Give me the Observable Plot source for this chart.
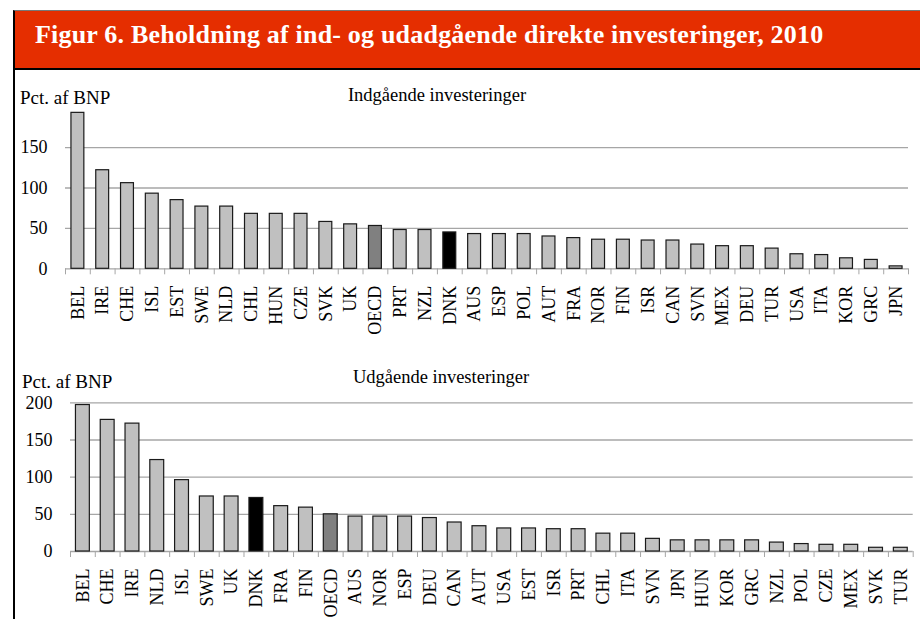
<!DOCTYPE html>
<html>
<head>
<meta charset="utf-8">
<script src="https://cdn.jsdelivr.net/npm/d3@7"></script>
<script src="https://cdn.jsdelivr.net/npm/@observablehq/plot@0.6"></script>
<style>
  html, body { margin: 0; padding: 0; }
  body { width: 920px; height: 619px; overflow: hidden; background: #fff; position: relative; font-family: "Liberation Serif", serif; color: #000; }
  #header { position: absolute; left: 13px; top: 10px; width: 920px; height: 57px; background: #E52E00; border-left: 2px solid #000; border-top: 1px solid #777; border-bottom: 2px solid #000; }
  #title { position: absolute; left: 35px; top: 21.5px; font-size: 26px; letter-spacing: 0.2px; font-weight: bold; color: #fff; line-height: 1; white-space: nowrap; }
  #border { position: absolute; left: 13px; top: 70px; width: 2px; height: 549px; background: #000; z-index: 5; }
  .chart { position: absolute; left: 0; }
  .chart svg, .chart svg text { font-family: "Liberation Serif", serif !important; }
  .lab { position: absolute; line-height: 1; white-space: nowrap; }
  .sub { transform: translateX(-50%); }
</style>
</head>
<body>
<div id="header"></div>
<div id="title">Figur 6. Beholdning af ind- og udadgående direkte investeringer, 2010</div>
<div id="border"></div>
<div id="top" class="chart" style="top:80px"></div>
<div id="bottom" class="chart" style="top:360px"></div>
<div class="lab" style="left:20px; top:88px; font-size:19px">Pct. af BNP</div>
<div class="lab sub" style="left:437px; top:86px; font-size:18.5px">Indgående investeringer</div>
<div class="lab" style="left:22px; top:372px; font-size:19px">Pct. af BNP</div>
<div class="lab sub" style="left:441px; top:368px; font-size:18.5px">Udgående investeringer</div>
<script>
// Indgående investeringer (pct. af BNP), 2010
const inCountries = ["BEL","IRE","CHE","ISL","EST","SWE","NLD","CHL","HUN","CZE","SVK","UK","OECD","PRT","NZL","DNK","AUS","ESP","POL","AUT","FRA","NOR","FIN","ISR","CAN","SVN","MEX","DEU","TUR","USA","ITA","KOR","GRC","JPN"];
const inValues = [193,122,106,93,85,77,77,68,68,68,58,55,53,48,48,45,43,43,43,40,38,36,36,35,35,30,28,28,25,18,17,13,11,3];

// Udgående investeringer (pct. af BNP), 2010
const outCountries = ["BEL","CHE","IRE","NLD","ISL","SWE","UK","DNK","FRA","FIN","OECD","AUS","NOR","ESP","DEU","CAN","AUT","USA","EST","ISR","PRT","CHL","ITA","SVN","JPN","HUN","KOR","GRC","NZL","POL","CZE","MEX","SVK","TUR"];
const outValues = [197,177,172,123,96,74,74,72,61,59,50,47,47,47,45,39,34,31,31,30,30,24,24,17,15,15,15,15,12,10,9,9,5,5];

const inTicks = [0,50,100,150];
const outTicks = [0,50,100,150,200];

function chart(countries, values, ticks, m) {
  const data = countries.map((c, i) => ({c, v: values[i], g: c === "DNK" ? "DNK" : c === "OECD" ? "OECD" : "other"}));
  const W = 920;
  const step = (W - m.l - m.r) / countries.length;
  const plotH = m.h - m.t - m.b;
  const tickUnits = 6 * 200 / plotH;
  const grid = "#a6a6a6";
  const ff = '"Liberation Serif", serif';
  return Plot.plot({
    width: W, height: m.h,
    marginLeft: m.l, marginRight: m.r, marginTop: m.t, marginBottom: m.b,
    style: {background: "transparent", fontFamily: ff, fontSize: "18px", color: "#000", overflow: "visible"},
    x: {domain: countries, paddingInner: m.p, paddingOuter: m.p / 2, round: false},
    y: {domain: [0, 200]},
    color: {domain: ["other", "OECD", "DNK"], range: ["#c0c0c0", "#808080", "#000000"]},
    marks: [
      Plot.gridY(ticks.filter(t => t > 0), {stroke: grid, strokeOpacity: 1, strokeWidth: 1.3}),
      Plot.ruleY([0], {stroke: grid, strokeWidth: 1.3}),
      Plot.ruleX(countries, {x: d => d, y1: 0, y2: -tickUnits, dx: -step / 2, stroke: grid}),
      Plot.ruleX(countries.slice(-1), {x: d => d, y1: 0, y2: -tickUnits, dx: step / 2, stroke: grid}),
      Plot.barY(data, {x: "c", y: "v", fill: "g", stroke: "#1a1a1a", strokeWidth: 1.2}),
      Plot.axisY(ticks, {tickSize: 0, tickPadding: 18, fontSize: 18, fontFamily: ff, label: null}),
      Plot.axisX({tickRotate: -90, tickSize: 0, tickPadding: 17, fontSize: 18, fontFamily: ff, label: null})
    ]
  });
}

document.getElementById("top").append(
  chart(inCountries, inValues, inTicks, {h: 280, t: 26.7, b: 91.7, l: 65, r: 12, p: 0.48})
);
document.getElementById("bottom").append(
  chart(outCountries, outValues, outTicks, {h: 259, t: 42.3, b: 68, l: 70, r: 7.3, p: 0.44})
);
</script>
</body>
</html>
